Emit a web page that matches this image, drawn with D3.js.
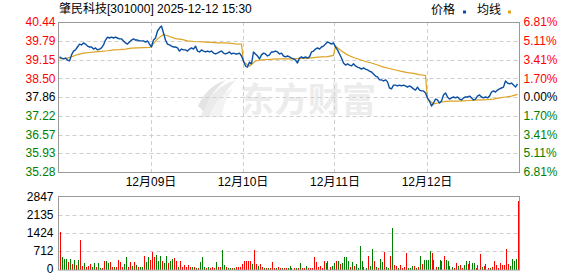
<!DOCTYPE html>
<html><head><meta charset="utf-8">
<script src="https://cdn.jsdelivr.net/npm/d3@7"></script>
<style>
body{margin:0;background:#fff;}
svg{display:block;font-family:"Liberation Sans",Arial,"Noto Sans CJK SC",sans-serif;}
</style>
</head><body><svg id="c" width="578" height="276"></svg>
<script>
const title = "肇民科技[301000] 2025-12-12 15:30";
const legendNames = ["价格", "均线"];
const watermark = "东方财富";
const prevClose = 37.86;
const priceTicks = [40.44, 39.79, 39.15, 38.50, 37.86, 37.22, 36.57, 35.93, 35.28];
const pctTicks = ["6.81%", "5.11%", "3.41%", "1.70%", "0.00%", "1.70%", "3.41%", "5.11%", "6.81%"];
const volTicks = [0, 712, 1424, 2135, 2847];
const dateLabels = ["12月09日", "12月10日", "12月11日", "12月12日"];
const pointsPerDay = 46;
const dayCount = 5;
const avgStep = 3;

const price = [
 39.24,39.20,39.17,39.20,39.13,39.10,39.31,39.44,39.48,39.58,39.68,39.65,39.72,39.68,39.61,39.58,39.58,39.51,39.55,39.48,39.51,39.55,39.65,39.82,39.92,39.89,39.92,39.89,39.92,39.89,39.86,39.86,39.79,39.72,39.68,39.75,39.82,39.86,39.82,39.82,39.79,39.79,39.79,39.75,39.79,39.68,
 39.58,39.82,39.89,40.13,40.23,40.30,40.06,39.82,39.68,39.65,39.61,39.58,39.58,39.55,39.44,39.51,39.48,39.48,39.44,39.51,39.55,39.51,39.61,39.44,39.41,39.48,39.44,39.41,39.44,39.41,39.44,39.37,39.34,39.37,39.41,39.44,39.37,39.34,39.37,39.41,39.34,39.37,39.34,39.34,39.37,39.27,
 39.10,38.93,38.89,39.06,39.00,39.41,39.34,39.27,39.17,39.31,39.37,39.34,39.27,39.31,39.41,39.41,39.44,39.41,39.34,39.37,39.27,39.24,39.27,39.24,39.20,39.17,39.13,39.03,39.20,39.24,39.20,39.24,39.20,39.24,39.41,39.44,39.51,39.55,39.51,39.58,39.61,39.68,39.75,39.72,39.68,39.72,
 39.58,39.48,39.34,39.20,39.03,38.96,39.00,38.96,38.93,39.00,38.93,38.89,38.86,38.82,38.86,38.82,38.79,38.75,38.72,38.65,38.58,38.55,38.45,38.45,38.41,38.45,38.38,38.17,38.14,38.27,38.27,38.24,38.27,38.24,38.27,38.24,38.20,38.24,38.20,38.14,38.10,38.20,38.10,38.07,38.07,38.00,
 37.83,37.72,37.55,37.65,37.79,37.76,37.65,37.72,37.93,38.00,37.86,37.79,37.83,37.86,37.83,37.86,37.79,37.76,37.83,37.86,37.86,37.89,37.83,37.76,37.79,37.89,37.93,37.86,37.83,37.86,37.83,37.89,38.03,38.07,38.03,38.10,38.14,38.17,38.20,38.41,38.34,38.31,38.34,38.27,38.20,38.31
];

const avg = [
 39.18,39.18,39.24,39.32,39.37,39.39,39.41,39.43,39.45,39.48,39.49,39.51,39.54,39.55,39.56,39.57,
 39.61,39.86,40.01,39.94,39.87,39.84,39.79,39.77,39.76,39.75,39.74,39.72,39.72,39.71,39.69,39.68,
 39.06,38.93,39.10,39.14,39.15,39.16,39.17,39.17,39.17,39.18,39.19,39.20,39.22,39.24,39.25,39.29,
 39.61,39.44,39.31,39.22,39.15,39.08,39.03,38.96,38.89,38.84,38.79,38.74,38.70,38.67,38.63,38.60,
 37.79,37.62,37.67,37.71,37.72,37.72,37.73,37.74,37.75,37.76,37.77,37.79,37.83,37.86,37.89,37.95
];

const volume = [
 1460,460,400,400,260,400,200,360,150,360,1120,120,220,90,100,200,80,220,60,220,50,50,300,300,220,280,90,80,60,360,260,60,200,490,70,290,100,260,160,80,90,90,530,260,460,360,
 660,490,550,300,510,330,220,510,220,300,400,440,330,80,330,60,170,60,170,90,60,80,40,40,260,490,60,50,60,40,80,50,260,60,60,730,170,90,40,40,40,40,90,60,90,200,
 330,330,330,330,200,730,200,130,200,90,40,40,50,40,290,40,40,90,40,40,40,40,40,130,40,40,40,40,250,40,40,120,40,40,40,460,260,60,130,40,330,220,330,90,130,220,
 330,330,200,220,460,460,330,90,260,130,200,40,920,330,90,40,500,130,790,300,60,40,410,260,660,60,40,500,1600,170,130,40,170,40,60,610,40,40,110,130,40,80,530,210,370,370,
 370,700,610,370,80,80,370,300,530,370,300,130,80,40,240,130,170,40,170,330,210,330,240,240,40,170,570,80,130,210,40,40,80,330,170,40,240,170,170,770,210,130,400,330,410,2680
];

const volUp = [
 1,0,0,0,1,0,1,0,1,0,1,1,0,1,1,1,0,0,1,0,0,1,1,0,0,1,1,0,1,1,1,1,0,0,1,1,0,1,0,1,0,0,1,0,0,1,
 1,1,0,0,0,1,0,0,1,0,0,1,1,0,1,1,1,1,1,1,0,1,0,1,0,0,0,1,0,1,1,1,0,1,1,0,0,1,0,0,1,0,1,1,1,1,
 1,1,1,1,0,1,1,0,1,1,0,1,0,1,1,1,0,1,1,0,1,1,0,0,1,1,0,1,0,1,1,0,1,1,1,1,1,1,1,1,1,0,1,1,0,0,
 1,0,1,0,0,0,0,1,0,1,0,0,0,0,0,0,1,0,0,1,0,1,0,0,1,0,0,1,0,1,1,0,1,1,1,1,0,0,0,1,0,1,0,1,0,0,
 0,0,1,1,1,0,0,1,1,0,0,1,0,1,1,0,1,1,0,0,1,1,0,0,1,1,1,0,1,0,1,0,1,1,1,1,1,1,1,1,1,0,0,0,0,1
];

const RED = "#ff0000", GREEN = "#008000", BLUE = "#0b4fa3", GOLD = "#dda321";
const GRID = "#cfcfcf", FRAME = "#999999";
const FONT = '"Liberation Sans",Arial,"Noto Sans CJK SC",sans-serif';

const svg = d3.select("#c");
const L = 58.5, R = 519.5, T = 22, B = 172;
const VT = 196.5, VB = 269;
const N = pointsPerDay * dayCount;

const x = d3.scaleLinear().domain([0, N]).range([L, R - 1]);
const y = d3.scaleLinear().domain([35.28, 40.44]).range([B, T]);
const yV = d3.scaleLinear().domain([0, 2847]).range([VB, VT]);

// watermark
const wm = svg.append("g").attr("fill", "#ebebeb").attr("stroke", "none");
wm.append("path").attr("d", "M201,118 C205,100 216,86 236,80 C226,90 219,101 216,114 Z");
wm.append("path").attr("d", "M209,117 C214,103 222,94 233,88 C227,97 223,106 222,117 Z").attr("fill", "#f3f3f3");
wm.append("path").attr("d", "M198,106 C204,92 214,84 226,80 C214,90 207,100 204,112 Z").attr("fill", "#e4e4e4");
wm.append("text").attr("x", 240).attr("y", 112).attr("font-size", 34).attr("font-weight", "bold")
  .attr("font-family", '"Noto Sans CJK SC",sans-serif').attr("fill", "#ececec").text(watermark);

// grid main
const boundaries = d3.range(1, dayCount).map(d => d * pointsPerDay);
svg.append("g").selectAll("line").data(priceTicks.slice(1, -1)).join("line")
  .attr("x1", L).attr("x2", R).attr("y1", d => Math.round(y(d)) + 0.5).attr("y2", d => Math.round(y(d)) + 0.5)
  .attr("stroke", GRID).attr("stroke-dasharray", "4,3");
svg.append("g").selectAll("line").data(boundaries).join("line")
  .attr("x1", d => Math.round(x(d)) + 0.5).attr("x2", d => Math.round(x(d)) + 0.5).attr("y1", T).attr("y2", B)
  .attr("stroke", GRID).attr("stroke-dasharray", "4,3");

// avg line
const avgPts = avg.map((v, k) => {
  const day = Math.floor(k / 16), j = k % 16;
  return [day * pointsPerDay + j * avgStep + 0.5, v];
});
svg.append("path").datum(avgPts)
  .attr("d", d3.line().x(d => x(d[0])).y(d => y(d[1])))
  .attr("fill", "none").attr("stroke", GOLD).attr("stroke-width", 1.2);

// price line
svg.append("path").datum(price)
  .attr("d", d3.line().x((d, i) => x(i + 0.5)).y(d => y(d)))
  .attr("fill", "none").attr("stroke", BLUE).attr("stroke-width", 1.4).attr("stroke-linejoin", "round");

// main frame
svg.append("rect").attr("x", L).attr("y", T + 0.5).attr("width", R - L).attr("height", B - T)
  .attr("fill", "none").attr("stroke", FRAME);

// axes
function styleAxis(g) {
  g.select(".domain").remove();
  g.selectAll("line").remove();
  g.attr("font-family", FONT).attr("font-size", 12);
}
const tickColor = (d, i) => i < 4 ? RED : (i === 4 ? "#000" : GREEN);
const axL = svg.append("g").attr("transform", `translate(${L},0)`)
  .call(d3.axisLeft(y).tickValues(priceTicks).tickSize(0).tickPadding(3).tickFormat(d3.format(".2f")))
  .call(styleAxis);
axL.selectAll("text").attr("fill", (d) => tickColor(d, priceTicks.indexOf(d)));
const axR = svg.append("g").attr("transform", `translate(${R},0)`)
  .call(d3.axisRight(y).tickValues(priceTicks).tickSize(0).tickPadding(4).tickFormat((d, i) => pctTicks[i]))
  .call(styleAxis);
axR.selectAll("text").attr("fill", (d) => tickColor(d, priceTicks.indexOf(d)));
svg.append("g").attr("transform", `translate(0,${B})`)
  .call(d3.axisBottom(x).tickValues(boundaries).tickSize(0).tickPadding(5).tickFormat((d, i) => dateLabels[i]))
  .call(styleAxis).selectAll("text").attr("fill", "#000");

// volume grid
svg.append("g").selectAll("line").data(volTicks.slice(1, -1)).join("line")
  .attr("x1", L).attr("x2", R).attr("y1", d => Math.round(yV(d)) + 0.5).attr("y2", d => Math.round(yV(d)) + 0.5)
  .attr("stroke", GRID).attr("stroke-dasharray", "4,3");

// volume bars (pixel-snapped)
svg.append("g").attr("shape-rendering", "crispEdges").selectAll("rect").data(volume).join("rect")
  .attr("x", (d, i) => Math.round(x(i + 0.5))).attr("width", 1)
  .attr("y", d => Math.round(yV(d))).attr("height", d => Math.max(1, Math.round(VB + 1 - yV(d))))
  .attr("fill", (d, i) => volUp[i] ? RED : GREEN);

// volume frame
svg.append("rect").attr("x", L).attr("y", VT).attr("width", R - L).attr("height", VB + 1 - VT)
  .attr("fill", "none").attr("stroke", FRAME);
svg.append("g").attr("transform", `translate(${L},0)`)
  .call(d3.axisLeft(yV).tickValues(volTicks).tickSize(0).tickPadding(5).tickFormat(d3.format("d")))
  .call(styleAxis).selectAll("text").attr("fill", "#000");

// title & legend
svg.append("text").attr("x", 59).attr("y", 13).attr("font-size", 12).attr("fill", "#000").text(title);
const lg = svg.append("g").attr("font-size", 12);
lg.append("text").attr("x", 431).attr("y", 13.5).text(legendNames[0]);
lg.append("rect").attr("x", 463).attr("y", 10.5).attr("width", 3).attr("height", 3).attr("fill", BLUE);
lg.append("text").attr("x", 477).attr("y", 13.5).text(legendNames[1]);
lg.append("rect").attr("x", 508).attr("y", 10.5).attr("width", 3).attr("height", 3).attr("fill", GOLD);
</script>
</body></html>
